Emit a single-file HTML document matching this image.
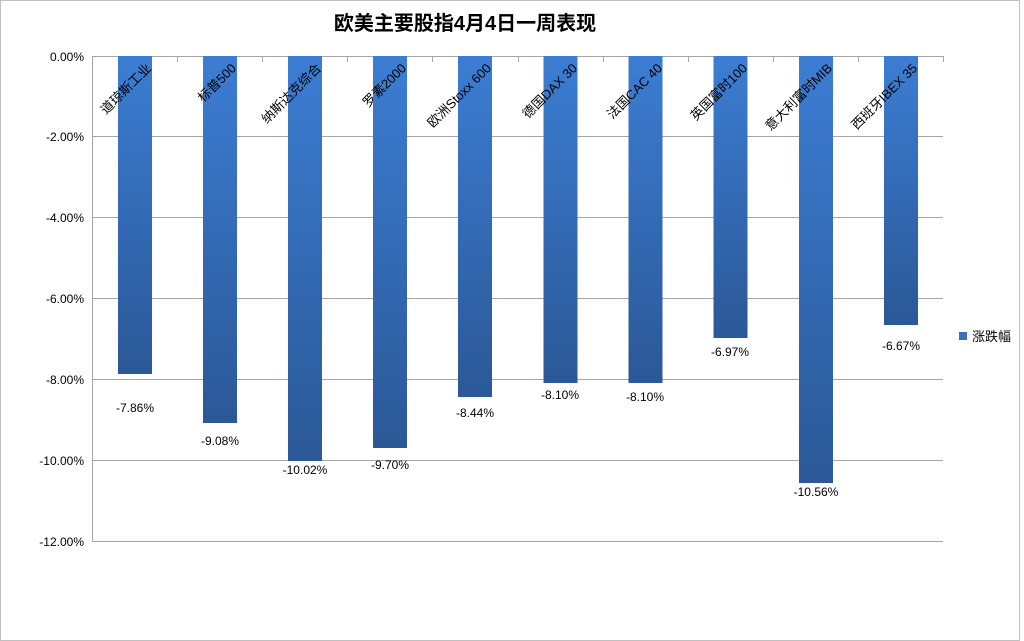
<!DOCTYPE html>
<html><head><meta charset="utf-8"><style>
body{margin:0;background:#fff}
svg{display:block;font-family:"Liberation Sans","Noto Sans CJK SC",sans-serif}
</style></head><body>
<svg width="1024" height="641" viewBox="0 0 1024 641">
<defs><linearGradient id="g" x1="0" y1="0" x2="0" y2="1">
<stop offset="0" stop-color="#3c7dd3"/><stop offset="1" stop-color="#2b5897"/></linearGradient></defs>
<rect x="0.5" y="0.5" width="1019" height="640" fill="#fff" stroke="#bfbfbf"/>
<text x="465" y="30" text-anchor="middle" font-size="20" font-weight="bold" fill="#000">欧美主要股指4月4日一周表现</text>
<g stroke="#a6a6a6" stroke-width="1">
<line x1="92" y1="56.5" x2="943" y2="56.5"/>
<line x1="92" y1="136.5" x2="943" y2="136.5"/>
<line x1="92" y1="217.5" x2="943" y2="217.5"/>
<line x1="92" y1="298.5" x2="943" y2="298.5"/>
<line x1="92" y1="379.5" x2="943" y2="379.5"/>
<line x1="92" y1="460.5" x2="943" y2="460.5"/>
<line x1="92" y1="541.5" x2="943" y2="541.5"/>
<line x1="92.5" y1="56" x2="92.5" y2="541"/>
<line x1="177.5" y1="56" x2="177.5" y2="62"/><line x1="262.5" y1="56" x2="262.5" y2="62"/><line x1="347.5" y1="56" x2="347.5" y2="62"/><line x1="432.5" y1="56" x2="432.5" y2="62"/><line x1="518.5" y1="56" x2="518.5" y2="62"/><line x1="603.5" y1="56" x2="603.5" y2="62"/><line x1="688.5" y1="56" x2="688.5" y2="62"/><line x1="773.5" y1="56" x2="773.5" y2="62"/><line x1="858.5" y1="56" x2="858.5" y2="62"/><line x1="943.5" y1="56" x2="943.5" y2="62"/>
</g>
<g font-size="12" fill="#000" text-anchor="end">
<text x="84" y="61">0.00%</text><text x="84" y="141">-2.00%</text><text x="84" y="222">-4.00%</text><text x="84" y="303">-6.00%</text><text x="84" y="384">-8.00%</text><text x="84" y="465">-10.00%</text><text x="84" y="546">-12.00%</text>
</g>
<g fill="url(#g)">
<rect x="118" y="56" width="34" height="318"/>
<rect x="203" y="56" width="34" height="367"/>
<rect x="288" y="56" width="34" height="405"/>
<rect x="373" y="56" width="34" height="392"/>
<rect x="458" y="56" width="34" height="341"/>
<rect x="543.5" y="56" width="34" height="327"/>
<rect x="628.5" y="56" width="34" height="327"/>
<rect x="713.5" y="56" width="34" height="282"/>
<rect x="799" y="56" width="34" height="427"/>
<rect x="884" y="56" width="34" height="269"/>
</g>
<g font-size="13" fill="#000" text-anchor="end">
<text transform="translate(152,69) rotate(-45)">道琼斯工业</text>
<text transform="translate(237,69) rotate(-45)">标普500</text>
<text transform="translate(322,69) rotate(-45)">纳斯达克综合</text>
<text transform="translate(407,69) rotate(-45)">罗素2000</text>
<text transform="translate(492,69) rotate(-45)">欧洲Stoxx 600</text>
<text transform="translate(578,69) rotate(-45)">德国DAX 30</text>
<text transform="translate(663,69) rotate(-45)">法国CAC 40</text>
<text transform="translate(748,69) rotate(-45)">英国富时100</text>
<text transform="translate(833,69) rotate(-45)">意大利富时MIB</text>
<text transform="translate(918,69) rotate(-45)">西班牙IBEX 35</text>
</g>
<g font-size="12" fill="#000" text-anchor="middle">
<text x="135" y="412">-7.86%</text>
<text x="220" y="445">-9.08%</text>
<text x="305" y="474">-10.02%</text>
<text x="390" y="469">-9.70%</text>
<text x="475" y="417">-8.44%</text>
<text x="560" y="399">-8.10%</text>
<text x="645" y="401">-8.10%</text>
<text x="730" y="356">-6.97%</text>
<text x="816" y="496">-10.56%</text>
<text x="901" y="350">-6.67%</text>
</g>
<rect x="959" y="332" width="8" height="8" fill="#3a72c0"/>
<text x="972" y="341" font-size="13" fill="#000">涨跌幅</text>
</svg>
</body></html>
